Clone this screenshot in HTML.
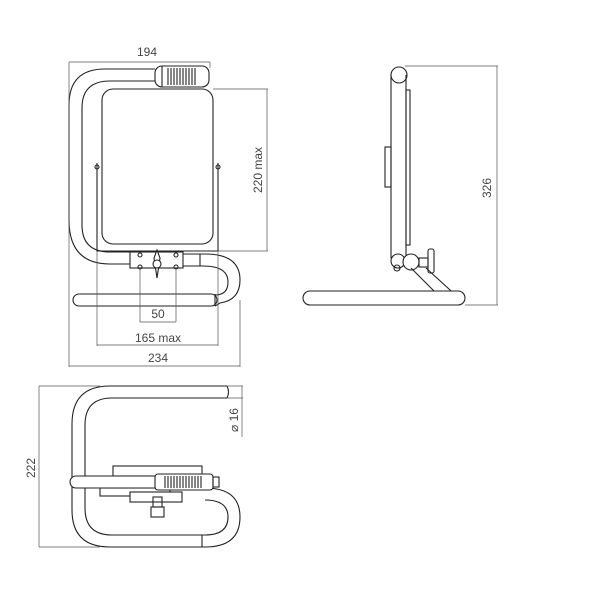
<!DOCTYPE html>
<html><head><style>
html,body{margin:0;padding:0;background:#fff;}
svg{display:block}
text{font-family:"Liberation Sans Narrow","Liberation Sans",sans-serif;font-size:12px;fill:#444;}
</style></head><body>
<svg width="600" height="600" viewBox="0 0 600 600" xmlns="http://www.w3.org/2000/svg">
<g fill="none" stroke="#222" stroke-width="1.1">
<!-- FRONT VIEW -->
<path d="M155,69 L105,69 Q69,69 69,105 L69,220 Q69,264 110,264 L132,264"/>
<path d="M155,81 L110,81 Q82,81 82,108 L82,225 Q82,252 110,252 L130,252"/>
<rect x="155" y="66" width="54" height="21" rx="7" fill="#fff"/>
<path d="M168,68 v17 M171,68 v17 M174,68 v17 M177,68 v17 M180,68 v17 M183,68 v17 M186,68 v17 M189,68 v17 M192,68 v17 M195,68 v17"/>
<path d="M162,66 v21"/>
<rect x="102" y="89" width="111" height="155" rx="11" fill="#fff"/>
<path d="M97,163 V251 H218 V163"/>
<circle cx="97" cy="167" r="2"/><circle cx="218" cy="167" r="2"/>
<rect x="130" y="252" width="53" height="16" fill="#fff"/>
<circle cx="140" cy="255" r="2"/><circle cx="176" cy="255" r="2"/>
<circle cx="140" cy="267" r="2"/><circle cx="176" cy="267" r="2"/>
<path d="M157,250 L160,258 L157,278 L154,258 Z" fill="#fff"/>
<circle cx="157" cy="264" r="4" fill="#fff"/>
<path d="M183,254 H205 Q240,254 240,280 Q240,300 220,303 L215,306"/>
<path d="M183,266 H203 Q228,266 228,282 Q228,295 215,295"/>
<path d="M200,254 v12"/>
<rect x="73" y="294" width="144" height="12" rx="6" fill="#fff"/>
<path d="M215,294 v12"/>
<!-- SIDE VIEW -->
<circle cx="399" cy="75" r="8"/>
<path d="M391,75 V258 M406,75 V258"/>
<rect x="406" y="90" width="4" height="155"/>
<rect x="385" y="147" width="6" height="40"/>
<circle cx="398" cy="261" r="7" fill="#fff"/>
<circle cx="411" cy="262" r="8" fill="#fff"/>
<rect x="419" y="258" width="9" height="9"/>
<rect x="428" y="249" width="6" height="24" rx="2"/>
<path d="M411,268 L443,300 M426,268 L461,300"/>
<circle cx="397" cy="268" r="3"/>
<rect x="303" y="291" width="162" height="14" rx="7" fill="#fff"/>
<!-- TOP VIEW -->
<path d="M227,386 H110 Q72,386 72,424 V510 Q72,547 110,547 H205 Q240,547 240,517 Q240,488 205,488"/>
<path d="M227,398 H112 Q85,398 85,425 V508 Q85,535 112,535 H205 Q228,535 228,517 Q228,500 205,500"/>
<path d="M227,386 q3,6 0,12"/>
<path d="M202,535 v12"/>
<rect x="113" y="466" width="89" height="10"/>
<rect x="100" y="488" width="70" height="8"/>
<rect x="130" y="492" width="52" height="10" fill="#fff"/>
<rect x="70" y="476" width="143" height="12" rx="6" fill="#fff"/>
<rect x="155" y="474" width="58" height="16" rx="3" fill="#fff"/>
<path d="M165,476 v12 M168,476 v12 M171,476 v12 M174,476 v12 M177,476 v12 M180,476 v12 M183,476 v12 M186,476 v12 M189,476 v12 M192,476 v12 M195,476 v12 M198,476 v12 M201,476 v12"/>
<rect x="213" y="477" width="6" height="10"/>
<rect x="153" y="497" width="9" height="10"/>
<rect x="151" y="507" width="13" height="10"/>
</g>
<!-- DIMENSIONS -->
<g fill="none" stroke="#555" stroke-width="0.7">
<path d="M69,62 H210 M69,62 V367 M210,62 V68"/>
<path d="M213,89 H268 M218,251 H268 M267,89 V251"/>
<path d="M140,268 V322 M176,268 V322 M140,322 H176"/>
<path d="M97,251 V346 M218,251 V346 M97,345 H218"/>
<path d="M69,366 H240 M240,300 V367"/>
<path d="M405,66 H498 M465,305 H498 M497,66 V305"/>
<path d="M39,386 V547 M39,386 H100 M39,547 H100"/>
<path d="M227,386 H243 M227,398 H243 M242,386 V437"/>
</g>
<text x="147" y="56" text-anchor="middle">194</text>
<text x="158" y="318" text-anchor="middle">50</text>
<text x="158" y="342" text-anchor="middle">165 max</text>
<text x="158" y="362" text-anchor="middle">234</text>
<text transform="translate(262,170) rotate(-90)" text-anchor="middle">220 max</text>
<text transform="translate(491,188) rotate(-90)" text-anchor="middle">326</text>
<text transform="translate(35,468) rotate(-90)" text-anchor="middle">222</text>
<text transform="translate(238,420) rotate(-90)" text-anchor="middle">⌀ 16</text>
</svg>
</body></html>
